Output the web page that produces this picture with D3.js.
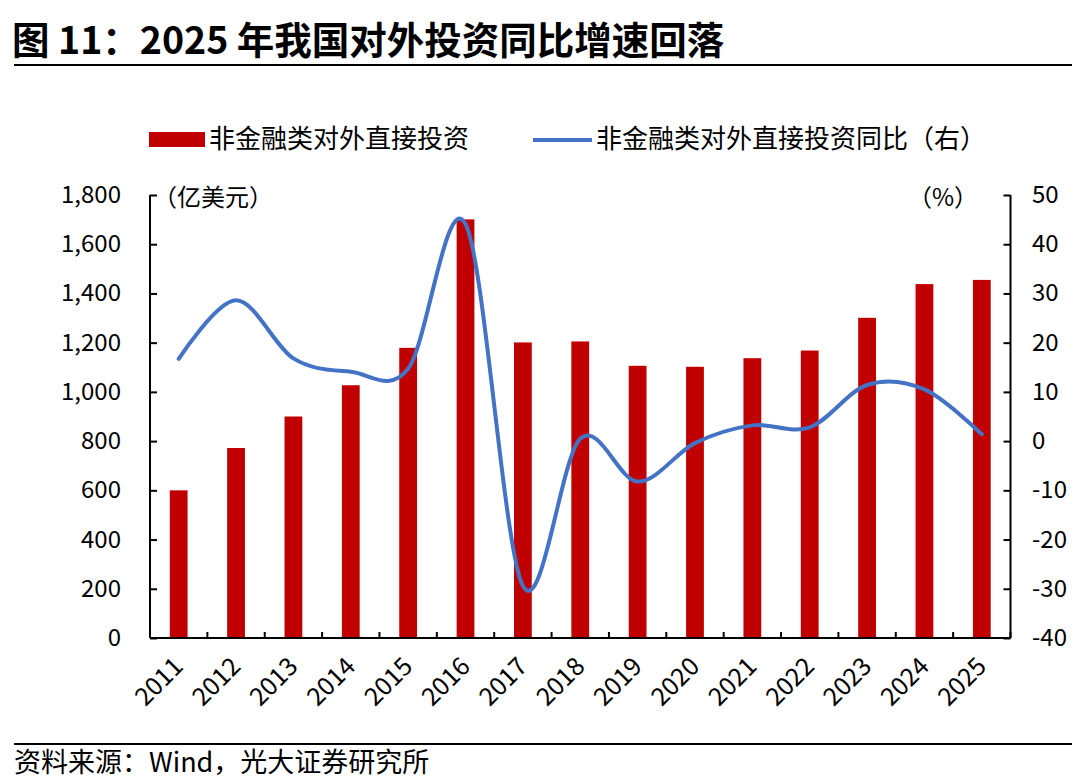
<!DOCTYPE html>
<html><head><meta charset="utf-8">
<script src="https://cdn.jsdelivr.net/npm/d3@7"></script>
<style>
html,body{margin:0;padding:0;background:#fff;}
svg text{font-family:"Noto Sans CJK SC","Noto Sans",sans-serif;fill:#000;}
</style></head>
<body>
<svg id="c" width="1080" height="782"></svg>
<script>
const years = ["2011","2012","2013","2014","2015","2016","2017","2018","2019","2020","2021","2022","2023","2024","2025"];
const investment = [600, 772, 900, 1027, 1179, 1701, 1201, 1205, 1106, 1102, 1137, 1168, 1301, 1438, 1455];
const yoyGrowth = [16.7, 28.6, 16.8, 14.1, 14.7, 44.1, -29.4, 0.5, -8.2, -0.4, 3.2, 2.8, 11.4, 10.5, 1.4];
const leftTicks = [0, 200, 400, 600, 800, 1000, 1200, 1400, 1600, 1800];
const rightTicks = [-40, -30, -20, -10, 0, 10, 20, 30, 40, 50];

const svg = d3.select("#c");
const L = 150, R = 1010.5, T = 195, B = 638;
const x = d3.scaleBand().domain(years).range([L, R]).paddingInner(0.69).paddingOuter(0.345);
const yL = d3.scaleLinear().domain([0, 1800]).range([B, T]);
const yR = d3.scaleLinear().domain([-40, 50]).range([B, T]);
const fmt = d3.format(",");

// title
svg.append("text").attr("x", 12).attr("y", 54).attr("font-size", 37.5).attr("font-weight", "bold")
  .text("图 11：2025 年我国对外投资同比增速回落");
svg.append("line").attr("x1", 14).attr("x2", 1072).attr("y1", 65).attr("y2", 65).attr("stroke", "#000").attr("stroke-width", 2);

// legend
svg.append("rect").attr("x", 149).attr("y", 132).attr("width", 56).attr("height", 15).attr("fill", "#C00000");
svg.append("text").attr("x", 209).attr("y", 148).attr("font-size", 26).text("非金融类对外直接投资");
svg.append("line").attr("x1", 533).attr("x2", 592).attr("y1", 140).attr("y2", 140).attr("stroke", "#4472C4").attr("stroke-width", 4);
svg.append("text").attr("x", 596).attr("y", 148).attr("font-size", 26).text("非金融类对外直接投资同比（右）");

// bars
svg.append("g").selectAll("rect").data(years).join("rect")
  .attr("x", d => x(d)).attr("width", x.bandwidth())
  .attr("y", (d, i) => yL(investment[i])).attr("height", (d, i) => B - yL(investment[i]))
  .attr("fill", "#C00000");

// line
const line = d3.line().curve(d3.curveCardinal.tension(0))
  .x((d, i) => x(years[i]) + x.bandwidth() / 2).y(d => yR(d));
svg.append("path").datum(yoyGrowth).attr("d", line).attr("fill", "none")
  .attr("stroke", "#4472C4").attr("stroke-width", 4).attr("stroke-linecap", "round");

// axes
const axisL = svg.append("g").attr("transform", `translate(${L},0)`)
  .call(d3.axisRight(yL).tickValues(leftTicks).tickSize(7).tickFormat(""));
const axisR = svg.append("g").attr("transform", `translate(${R},0)`)
  .call(d3.axisLeft(yR).tickValues(rightTicks).tickSize(7).tickFormat(""));
[axisL, axisR].forEach(g => {
  g.select(".domain").attr("stroke", "#000").attr("stroke-width", 2).attr("d", `M0,${T}V${B}`);
  g.selectAll(".tick line").attr("stroke", "#000").attr("stroke-width", 2);
});
svg.append("g").selectAll("text").data(leftTicks).join("text")
  .attr("x", 121).attr("y", d => yL(d) + 8).attr("text-anchor", "end").attr("font-size", 24).text(d => fmt(d));
svg.append("g").selectAll("text").data(rightTicks).join("text")
  .attr("x", 1032).attr("y", d => yR(d) + 8).attr("text-anchor", "start").attr("font-size", 24).text(d => d);

// x axis
const step = x.step();
const xTicks = d3.range(years.length + 1).map(i => L + i * step);
svg.append("line").attr("x1", L).attr("x2", R).attr("y1", B).attr("y2", B).attr("stroke", "#000").attr("stroke-width", 2);
svg.append("g").selectAll("line").data(xTicks).join("line")
  .attr("x1", d => d).attr("x2", d => d).attr("y1", B).attr("y2", B - 6).attr("stroke", "#000").attr("stroke-width", 2);
svg.append("g").selectAll("text").data(years).join("text")
  .attr("transform", d => `translate(${x(d) + x.bandwidth() / 2 + 6},${B + 30}) rotate(-45)`)
  .attr("text-anchor", "end").attr("font-size", 25).text(d => d);

// unit labels
svg.append("text").attr("x", 153).attr("y", 206).attr("font-size", 24).text("（亿美元）");
svg.append("text").attr("x", 908).attr("y", 206).attr("font-size", 24).text("（%）");

// footer
svg.append("line").attr("x1", 14).attr("x2", 1072).attr("y1", 744).attr("y2", 744).attr("stroke", "#000").attr("stroke-width", 2);
svg.append("text").attr("x", 14).attr("y", 772).attr("font-size", 27).text("资料来源：Wind，光大证券研究所");
</script>
</body></html>
